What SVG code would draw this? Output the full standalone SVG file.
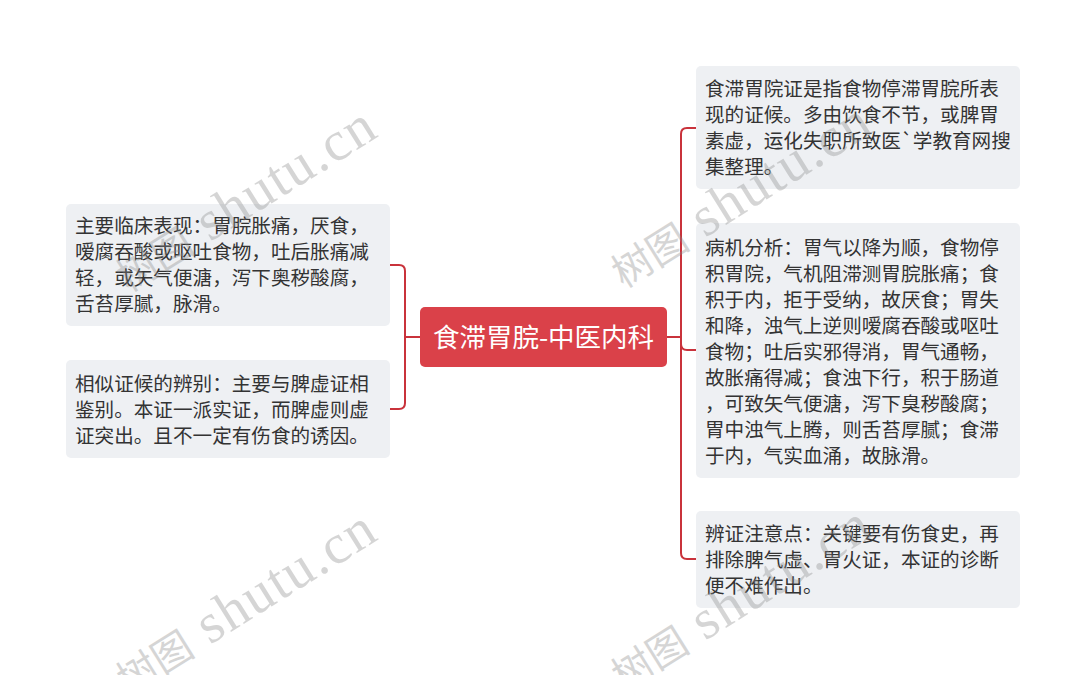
<svg xmlns="http://www.w3.org/2000/svg" width="1086" height="675" viewBox="0 0 1086 675">
<style>
.box{fill:#eef0f3;}
.t{font-family:"Noto Sans CJK SC","Noto Sans",sans-serif;font-size:19.6px;fill:#333333;}
.c{fill:none;stroke:#c9323b;stroke-width:2;}
.wm1{font-family:"Noto Sans CJK SC",sans-serif;font-size:40px;fill:#8a8a8a;opacity:0.35;}
.wm2{font-family:"Liberation Serif",serif;font-size:56px;fill:#8a8a8a;opacity:0.35;}
</style>
<rect width="1086" height="675" fill="#ffffff"/>
<g id="connectors">
<path class="c" d="M420,337 H405 M405,337 V271 Q405,265 399,265 H390 M405,337 V403 Q405,409 399,409 H390"/>
<path class="c" d="M667,337 H681 M681,337 V134 Q681,128 687,128 H696 M681,337 V344 Q681,350 687,350 H696 M681,337 V553 Q681,559 687,559 H696"/>
</g>
<g id="center">
<rect x="420" y="307" width="247" height="60" rx="5" fill="#da4149"/>
<text x="543.5" y="346.5" text-anchor="middle" style="font-family:'Noto Sans CJK SC','Noto Sans',sans-serif;font-size:26.5px;fill:#ffffff;">食滞胃脘-中医内科</text>
</g>
<g id="left1">
<rect class="box" x="66" y="204" width="324" height="122" rx="5"/>
<text class="t"><tspan x="75" y="233">主要临床表现：胃脘胀痛，厌食，</tspan><tspan x="75" y="259">嗳腐吞酸或呕吐食物，吐后胀痛减</tspan><tspan x="75" y="285">轻，或矢气便溏，泻下奥秽酸腐，</tspan><tspan x="75" y="311">舌苔厚腻，脉滑。</tspan></text>
</g>
<g id="left2">
<rect class="box" x="66" y="360" width="324" height="98" rx="5"/>
<text class="t"><tspan x="75" y="391">相似证候的辨别：主要与脾虚证相</tspan><tspan x="75" y="417">鉴别。本证一派实证，而脾虚则虚</tspan><tspan x="75" y="443">证突出。且不一定有伤食的诱因。</tspan></text>
</g>
<g id="right1">
<rect class="box" x="696" y="66" width="324" height="123" rx="5"/>
<text class="t"><tspan x="705" y="96">食滞胃院证是指食物停滞胃脘所表</tspan><tspan x="705" y="122">现的证候。多由饮食不节，或脾胃</tspan><tspan x="705" y="148">素虚，运化失职所致医`学教育网搜</tspan><tspan x="705" y="174">集整理。</tspan></text>
</g>
<g id="right2">
<rect class="box" x="696" y="223" width="324" height="255" rx="5"/>
<text class="t"><tspan x="705" y="255">病机分析：胃气以降为顺，食物停</tspan><tspan x="705" y="281">积胃院，气机阻滞测胃脘胀痛；食</tspan><tspan x="705" y="307">积于内，拒于受纳，故厌食；胃失</tspan><tspan x="705" y="333">和降，浊气上逆则嗳腐吞酸或呕吐</tspan><tspan x="705" y="359">食物；吐后实邪得消，胃气通畅，</tspan><tspan x="705" y="385">故胀痛得减；食浊下行，积于肠道</tspan><tspan x="705" y="411">，可致矢气便溏，泻下臭秽酸腐；</tspan><tspan x="705" y="437">胃中浊气上腾，则舌苔厚腻；食滞</tspan><tspan x="705" y="463">于内，气实血涌，故脉滑。</tspan></text>
</g>
<g id="right3">
<rect class="box" x="696" y="511" width="324" height="97" rx="5"/>
<text class="t"><tspan x="705" y="541">辨证注意点：关键要有伤食史，再</tspan><tspan x="705" y="567">排除脾气虚、胃火证，本证的诊断</tspan><tspan x="705" y="593">便不难作出。</tspan></text>
</g>
<g id="watermarks">
<g transform="translate(210,242) rotate(-32)"><text class="wm1" x="-16" y="0" text-anchor="end">树图</text><text class="wm2" x="0" y="0" textLength="200" lengthAdjust="spacing">shutu.cn</text></g>
<g transform="translate(705,238) rotate(-32)"><text class="wm1" x="-16" y="0" text-anchor="end">树图</text><text class="wm2" x="0" y="0" textLength="200" lengthAdjust="spacing">shutu.cn</text></g>
<g transform="translate(210,645) rotate(-32)"><text class="wm1" x="-16" y="0" text-anchor="end">树图</text><text class="wm2" x="0" y="0" textLength="200" lengthAdjust="spacing">shutu.cn</text></g>
<g transform="translate(705,641) rotate(-32)"><text class="wm1" x="-16" y="0" text-anchor="end">树图</text><text class="wm2" x="0" y="0" textLength="200" lengthAdjust="spacing">shutu.cn</text></g>
</g>
</svg>
